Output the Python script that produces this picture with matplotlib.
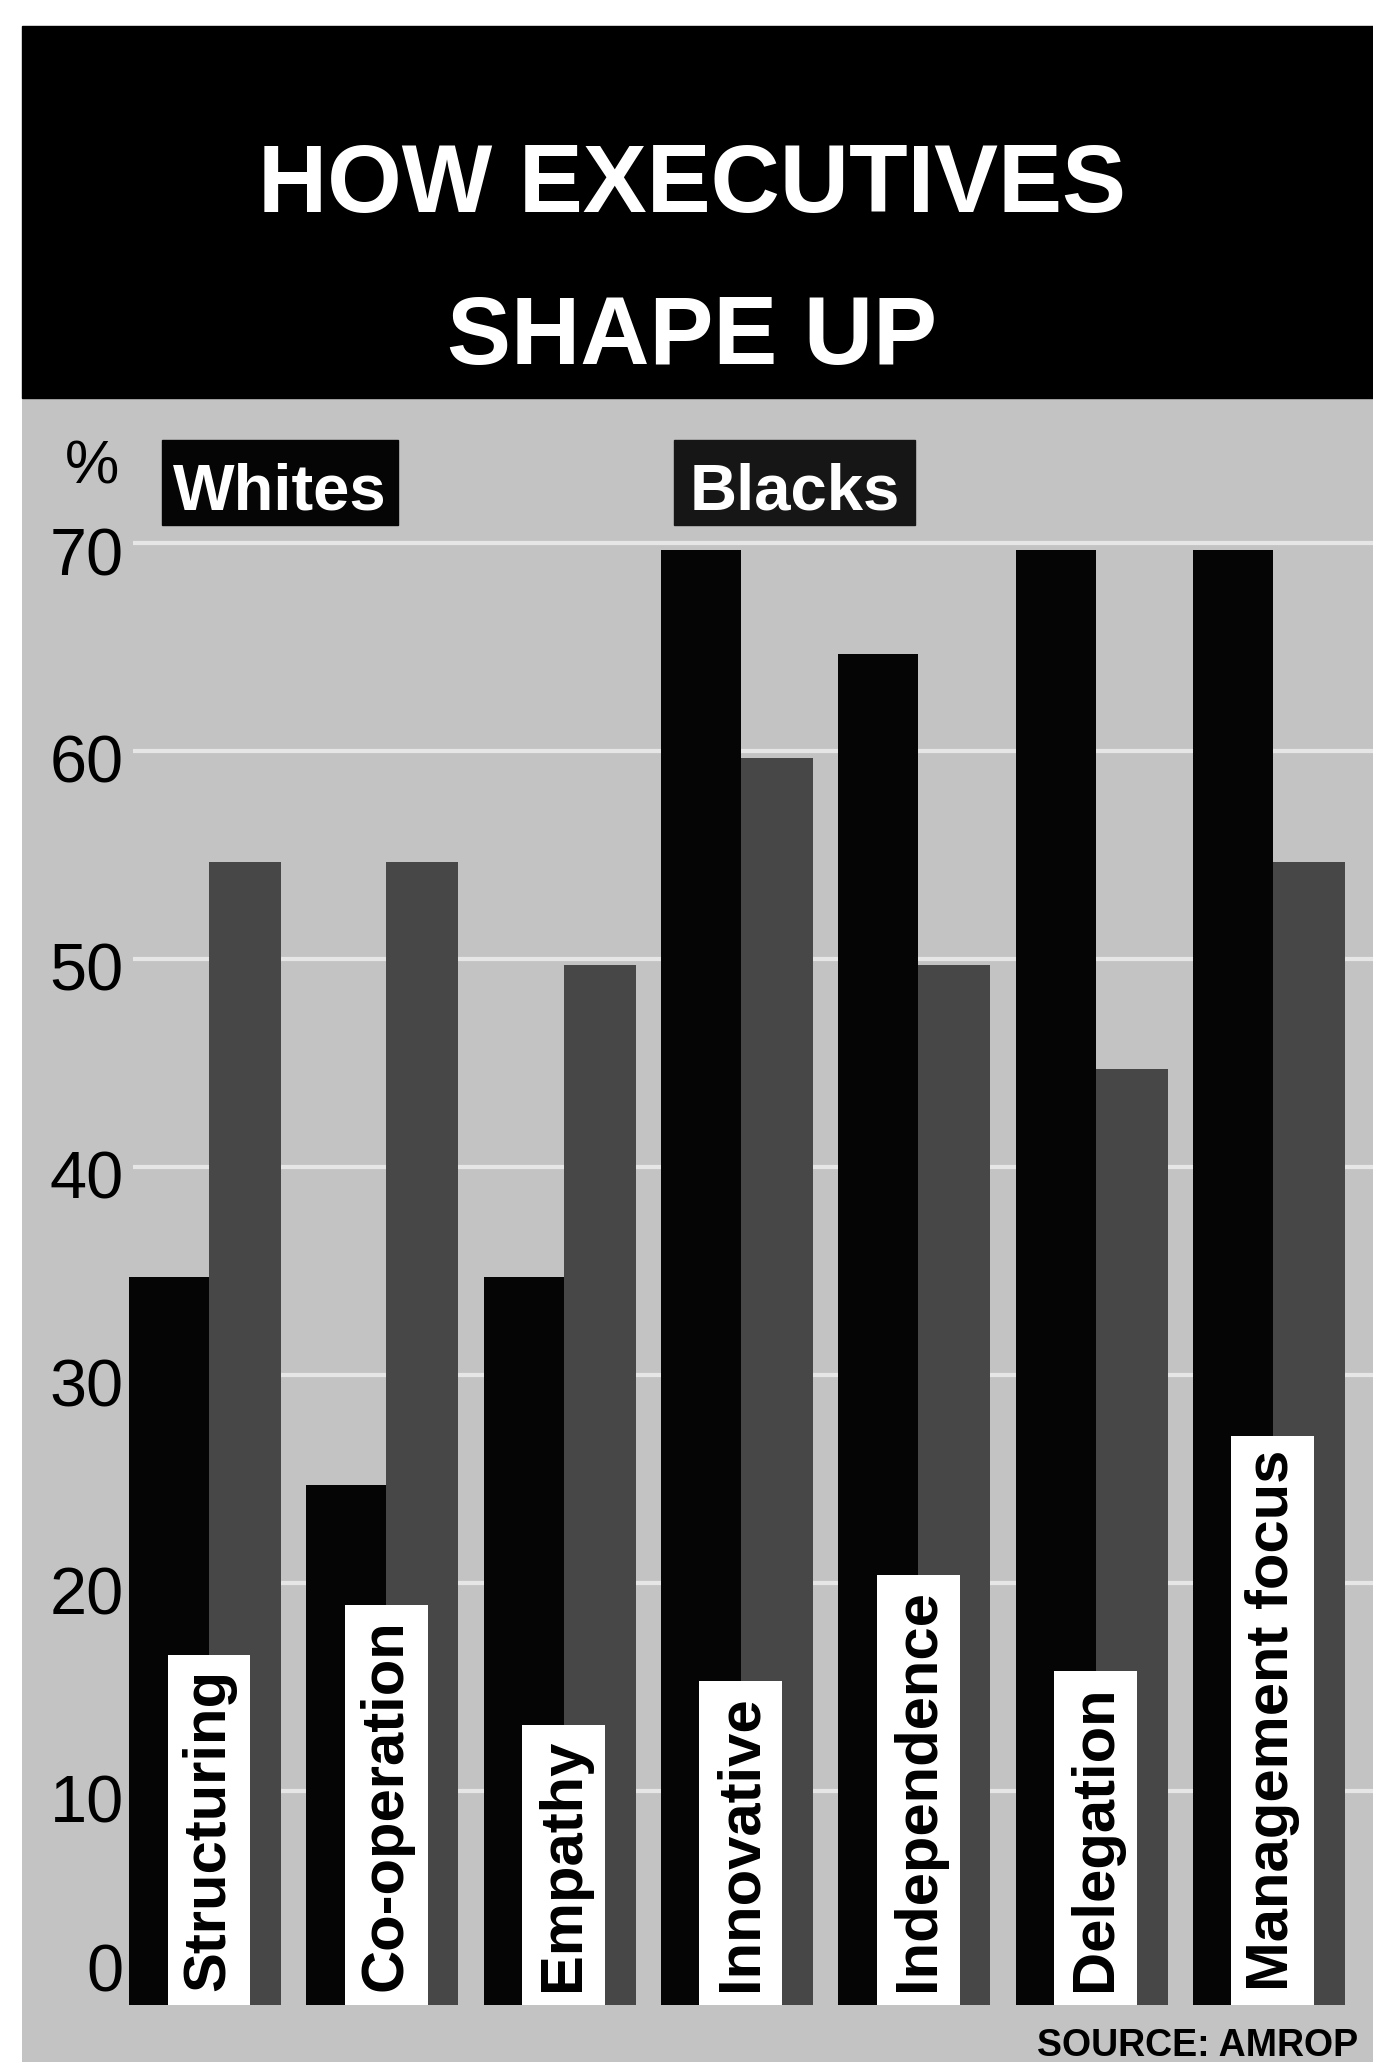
from __future__ import annotations

import matplotlib

matplotlib.use("Agg")
import matplotlib.pyplot as plt
from matplotlib.patches import Rectangle

# Survey shares (%) by trait
TRAITS = [
    "Structuring",
    "Co-operation",
    "Empathy",
    "Innovative",
    "Independence",
    "Delegation",
    "Management focus",
]
WHITES = [35, 25, 35, 70, 65, 70, 70]
BLACKS = [55, 55, 50, 60, 50, 45, 55]
Y_TICKS = [0, 10, 20, 30, 40, 50, 60, 70]

TITLE_LINES = ["HOW EXECUTIVES", "SHAPE UP"]
SOURCE = "SOURCE: AMROP"

WIDTH_PX, HEIGHT_PX = 1373, 2062
DPI = 100

FONT = ["Liberation Sans", "DejaVu Sans"]

BACKGROUND = "#c3c3c3"
WHITE_BAR = "#050505"
BLACK_BAR = "#474747"


def fx(px: float) -> float:
    return px / WIDTH_PX


def fy(py: float) -> float:
    return 1 - py / HEIGHT_PX


def draw_header(fig) -> None:
    fig.patches.append(
        Rectangle((fx(22), fy(398)), 1 - fx(22), fy(26) - fy(398),
                  transform=fig.transFigure, color="black", zorder=0)
    )
    for text, base in zip(TITLE_LINES, [212, 364]):
        fig.text(fx(692), fy(base), text, ha="center", va="baseline",
                 color="white", fontsize=69, fontweight="bold", family=FONT)


def draw_legend(fig) -> None:
    fig.text(fx(92), fy(483), "%", ha="center", va="baseline",
             fontsize=44, family=FONT)
    for label, left, right, color in [
        ("Whites", 162, 398, WHITE_BAR),
        ("Blacks", 674, 915, "#161616"),
    ]:
        fig.patches.append(
            Rectangle((fx(left), fy(525)), fx(right - left), fy(440) - fy(525),
                      transform=fig.transFigure, color=color, zorder=3)
        )
        fig.text(fx((left + right) / 2), fy(509), label, ha="center",
                 va="baseline", color="white", fontsize=47, fontweight="bold",
                 family=FONT, zorder=4)


def draw_bars(ax) -> None:
    positions = list(range(len(TRAITS)))
    px_per_unit = 177.3
    black_w = 80 / px_per_unit
    gray_w = 72 / px_per_unit

    ax.bar(positions, WHITES, width=-black_w, align="edge",
           color=WHITE_BAR, zorder=2)
    ax.bar(positions, BLACKS, width=gray_w, align="edge",
           color=BLACK_BAR, zorder=2)

    px_per_pct = 20.79
    pad_px = 14
    for pos, trait in zip(positions, TRAITS):
        ax.text(pos, pad_px / px_per_pct, trait, rotation=90, ha="center",
                va="bottom", fontsize=43, fontweight="bold", family=FONT,
                zorder=4,
                bbox=dict(boxstyle=f"square,pad={pad_px / 60:.3f}",
                          fc="white", ec="none"))

    for value in Y_TICKS[1:]:
        ax.hlines(value + 0.3, -0.43, 7, colors="white", linewidth=3,
                  zorder=1, alpha=0.6)

    for value in Y_TICKS:
        ax.text(-0.48, value - 0.4 if value else 0, str(value), ha="right",
                va="center" if value else "bottom", fontsize=48,
                family=FONT, zorder=3)


def main() -> None:
    fig = plt.figure(figsize=(WIDTH_PX / DPI, HEIGHT_PX / DPI), dpi=DPI)
    fig.patch.set_facecolor("white")

    ax = fig.add_axes([fx(22), 0, 1 - fx(22), fy(398)])
    ax.set_facecolor(BACKGROUND)
    ax.set_xlim((22 - 209) / 177.3, (WIDTH_PX - 209) / 177.3)
    ax.set_ylim(-(HEIGHT_PX - 2005) / 20.79, (2005 - 398) / 20.79)
    for spine in ax.spines.values():
        spine.set_visible(False)
    ax.set_xticks([])
    ax.set_yticks([])

    draw_header(fig)
    draw_legend(fig)
    draw_bars(ax)

    fig.text(fx(1358), fy(2056), SOURCE, ha="right", va="baseline",
             fontsize=27, fontweight="bold", family=FONT)

    fig.savefig("out.png", dpi=DPI)
    plt.close(fig)


if __name__ == "__main__":
    main()
